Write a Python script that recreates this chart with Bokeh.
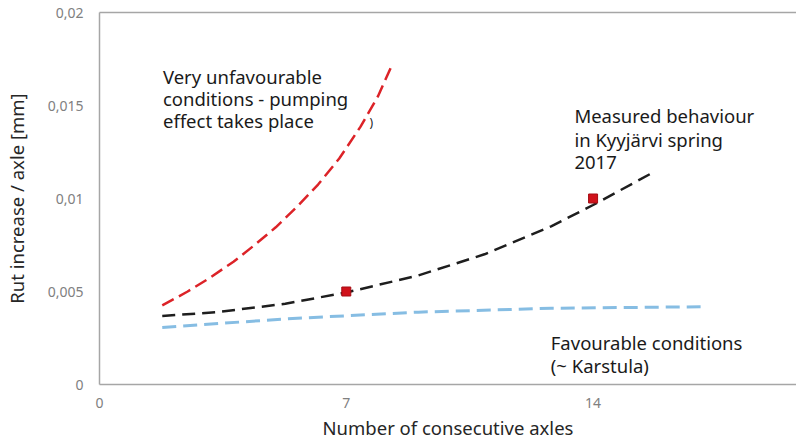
from bokeh.plotting import figure
from bokeh.models import LinearAxis, FixedTicker, Range1d, ColumnDataSource
from bokeh.core.properties import value
from bokeh.embed import file_html
from bokeh.resources import INLINE

# Rut increase per axle vs. number of consecutive axles (trend curves)
unfav_x = [1.78, 2.5, 3.1, 3.8, 4.4, 5.0, 5.6, 6.2, 6.8, 7.4, 7.9, 8.29]
unfav_y = [0.00425, 0.0050, 0.0057, 0.0066, 0.0075, 0.00845, 0.00955,
           0.01075, 0.01215, 0.01385, 0.0155, 0.01715]

measured_x = [1.78, 3.38, 5.27, 7.0, 9.04, 10.92, 12.81, 14.0, 15.7]
measured_y = [0.00368, 0.0039, 0.00434, 0.00495, 0.00586, 0.0070, 0.0085,
              0.00965, 0.0114]

fav_x = [1.78, 5.27, 9.04, 12.81, 17.05]
fav_y = [0.00306, 0.00353, 0.00389, 0.0041, 0.00418]

# measured points (Kyyjärvi)
points_x = [7, 14]
points_y = [0.005, 0.01]

x_ticks = [0, 7, 14]
y_ticks = [0, 0.005, 0.01, 0.015, 0.02]
y_tick_labels = ["0", "0,005", "0,01", "0,015", "0,02"]

FONT = "Noto Sans"
AXIS_GRAY = "#a6a6a6"

p = figure(width=796, height=448, output_backend="svg", toolbar_location=None,
           x_range=Range1d(0, 19.77), y_range=Range1d(0, 0.02),
           min_border_left=97, min_border_right=0, min_border_top=12,
           min_border_bottom=64, x_axis_location=None, y_axis_location=None)
p.outline_line_color = None
p.xgrid.visible = False
p.ygrid.visible = False
p.background_fill_color = "white"
p.border_fill_color = "white"

xaxis = LinearAxis(ticker=FixedTicker(ticks=x_ticks),
                   axis_label="Number of consecutive axles")
yaxis = LinearAxis(ticker=FixedTicker(ticks=y_ticks),
                   axis_label="Rut increase / axle [mm]",
                   major_label_overrides={t: s for t, s in zip(y_ticks, y_tick_labels)})
for ax in (xaxis, yaxis):
    ax.axis_line_color = AXIS_GRAY
    ax.axis_line_width = 1.5
    ax.major_tick_line_color = None
    ax.major_tick_out = 0
    ax.major_tick_in = 0
    ax.minor_tick_line_color = None
    ax.major_label_text_font = FONT
    ax.major_label_text_font_size = "14px"
    ax.major_label_text_color = "#808080"
    ax.axis_label_text_font = FONT
    ax.axis_label_text_font_size = "18.5px"
    ax.axis_label_text_font_style = "normal"
    ax.axis_label_text_color = "#262626"
xaxis.major_label_standoff = 13
xaxis.axis_label_standoff = 4
yaxis.major_label_standoff = 16
yaxis.axis_label_standoff = 16
p.add_layout(xaxis, "below")
p.add_layout(yaxis, "left")

# top border line of the plot area
top = LinearAxis(ticker=FixedTicker(ticks=[]))
top.axis_line_color = AXIS_GRAY
top.axis_line_width = 1.5
top.major_tick_line_color = None
top.major_tick_out = 0
top.major_tick_in = 0
top.minor_tick_line_color = None
top.major_label_standoff = 0
top.major_label_text_font_size = "0px"
p.add_layout(top, "above")

p.line(fav_x, fav_y, line_color="#86bde3", line_width=3, line_dash="14 7")
p.line(measured_x, measured_y, line_color="#1e1e1e", line_width=2.5, line_dash="13 7")
p.line(unfav_x, unfav_y, line_color="#dc2328", line_width=2.5, line_dash="13 6")
p.scatter(points_x, points_y, marker="square", size=9,
          fill_color="#d0121b", line_color="#a50d14")

# annotations
notes = ColumnDataSource(dict(
    x=[1.8, 1.8, 1.8, 13.47, 13.47, 13.47, 12.8, 12.8],
    y=[0.01656, 0.01538, 0.01419, 0.01446, 0.01316, 0.01195, 0.00227, 0.00102],
    t=["Very unfavourable", "conditions - pumping", "effect takes place",
       "Measured behaviour", "in Kyyjärvi spring", "2017",
       "Favourable conditions", "(~ Karstula)"],
))
p.text(x="x", y="y", text="t", source=notes, text_font=value(FONT),
       text_font_size="18.5px", text_color="#1a1a1a", text_baseline="alphabetic",
       text_align="left")
p.text(x=[7.66], y=[0.01409], text=[")"], text_font=value(FONT),
       text_font_size="12px", text_color="#1a1a1a", text_baseline="middle")

open("out.html", "w").write(file_html(p, INLINE))
